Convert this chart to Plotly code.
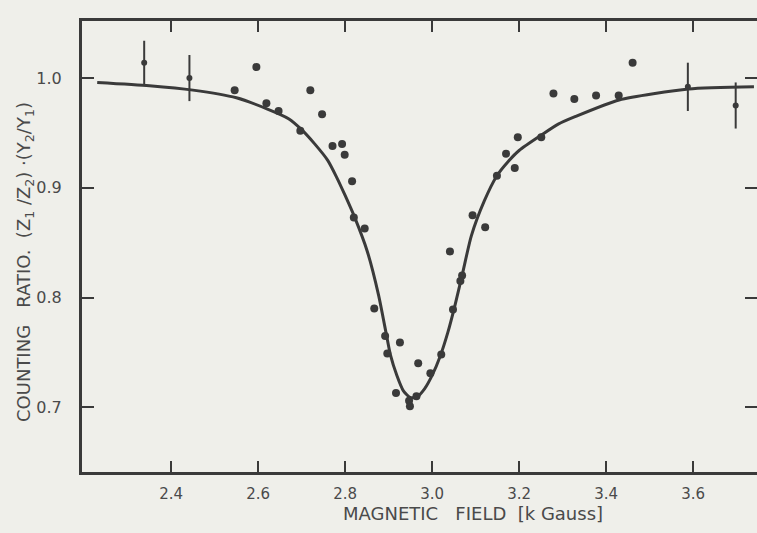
import plotly.graph_objects as go

# measured points (no error bars)
field = [2.546, 2.596, 2.619, 2.647, 2.697, 2.720, 2.747, 2.771, 2.793, 2.799,
         2.816, 2.820, 2.845, 2.867, 2.892, 2.926, 2.897, 2.917, 2.947, 2.949,
         2.964, 2.968, 2.996, 3.021, 3.048, 3.041, 3.069, 3.065, 3.093, 3.122,
         3.149, 3.170, 3.190, 3.197, 3.251, 3.279, 3.327, 3.377, 3.429, 3.461]
ratio = [0.989, 1.010, 0.977, 0.970, 0.952, 0.989, 0.967, 0.938, 0.940, 0.930,
         0.906, 0.873, 0.863, 0.790, 0.765, 0.759, 0.749, 0.713, 0.706, 0.701,
         0.710, 0.740, 0.731, 0.748, 0.789, 0.842, 0.820, 0.815, 0.875, 0.864,
         0.911, 0.931, 0.918, 0.946, 0.946, 0.986, 0.981, 0.984, 0.984, 1.014]

# points with error bars
eb_field = [2.338, 2.442, 3.588, 3.698]
eb_ratio = [1.014, 1.000, 0.992, 0.975]
eb_err = [0.020, 0.021, 0.022, 0.021]

# fitted curve
curve_field = [2.23, 2.35, 2.45, 2.55, 2.62, 2.67, 2.70, 2.73, 2.76, 2.78, 2.80,
               2.822, 2.851, 2.877, 2.894, 2.904, 2.919, 2.934, 2.949, 2.964,
               2.983, 3.000, 3.019, 3.036, 3.052, 3.070, 3.090, 3.12, 3.149,
               3.175, 3.20, 3.251, 3.29, 3.33, 3.43, 3.59, 3.74]
curve_ratio = [0.996, 0.993, 0.989, 0.982, 0.972, 0.963, 0.953, 0.940, 0.925, 0.910, 0.893,
               0.873, 0.842, 0.802, 0.768, 0.748, 0.729, 0.715, 0.709, 0.709,
               0.717, 0.729, 0.747, 0.768, 0.792, 0.822, 0.856, 0.888, 0.911,
               0.924, 0.934, 0.948, 0.958, 0.965, 0.980, 0.990, 0.992]

x_ticks = [2.4, 2.6, 2.8, 3.0, 3.2, 3.4, 3.6]
x_ticklabels = ["2.4", "2.6", "2.8", "3.0", "3.2", "3.4", "3.6"]
y_ticks = [0.7, 0.8, 0.9, 1.0]
y_ticklabels = ["0.7", "0.8", "0.9", "1.0"]

INK = "#3a3a3a"
PAPER = "#efefea"
FONT = "DejaVu Sans, Liberation Sans, sans-serif"

# plot-area geometry in pixels
L, R, T, B = 82, 757, 21, 472
W, H = R - L, B - T

fig = go.Figure()
fig.add_trace(go.Scatter(x=curve_field, y=curve_ratio, mode="lines",
                         line=dict(color=INK, width=3, shape="spline", smoothing=0.6),
                         hoverinfo="skip", showlegend=False))
fig.add_trace(go.Scatter(x=field, y=ratio, mode="markers",
                         marker=dict(color=INK, size=8), showlegend=False))
fig.add_trace(go.Scatter(x=eb_field, y=eb_ratio, mode="markers",
                         marker=dict(color=INK, size=6),
                         error_y=dict(type="data", array=eb_err, visible=True,
                                      color=INK, thickness=2, width=0),
                         showlegend=False))

fig.update_layout(
    width=757, height=533,
    margin=dict(l=L, r=757 - R, t=T, b=533 - B, autoexpand=False),
    paper_bgcolor=PAPER, plot_bgcolor=PAPER,
    font=dict(family=FONT, color="#4a4a4a", size=15),
    xaxis=dict(range=[2.195, 3.747], tickvals=x_ticks, ticktext=x_ticklabels,
               ticks="inside", ticklen=11, tickwidth=2, tickcolor=INK,
               showline=True, linecolor=INK, linewidth=3, mirror="ticks",
               showgrid=False, zeroline=False, ticklabelstandoff=6,
               tickfont=dict(size=15)),
    yaxis=dict(range=[0.641, 1.052], tickvals=y_ticks, ticktext=y_ticklabels,
               ticks="inside", ticklen=12, tickwidth=2, tickcolor=INK,
               showline=True, linecolor=INK, linewidth=3, mirror="ticks",
               showgrid=False, zeroline=False, ticklabelstandoff=14,
               tickfont=dict(size=16)),
    annotations=[
        dict(text="MAGNETIC&nbsp;&nbsp; FIELD&nbsp; [k Gauss]",
             x=(473 - L) / W, y=-(513 - B) / H, xref="paper", yref="paper",
             showarrow=False, font=dict(size=18),
             xanchor="center", yanchor="middle"),
        dict(text="COUNTING&nbsp;&nbsp; RATIO.&nbsp; (Z<sub>1</sub> /Z<sub>2</sub>) ·(Y<sub>2</sub>/Y<sub>1</sub>)",
             x=-(L - 25) / W, y=(B - 262) / H, xref="paper", yref="paper",
             showarrow=False, textangle=-90, font=dict(size=18),
             xanchor="center", yanchor="middle"),
    ],
)

fig.write_html(
    "out.html",
    config={"displayModeBar": False},
    post_script="document.body.style.margin='0';document.body.style.overflow='hidden';",
)
